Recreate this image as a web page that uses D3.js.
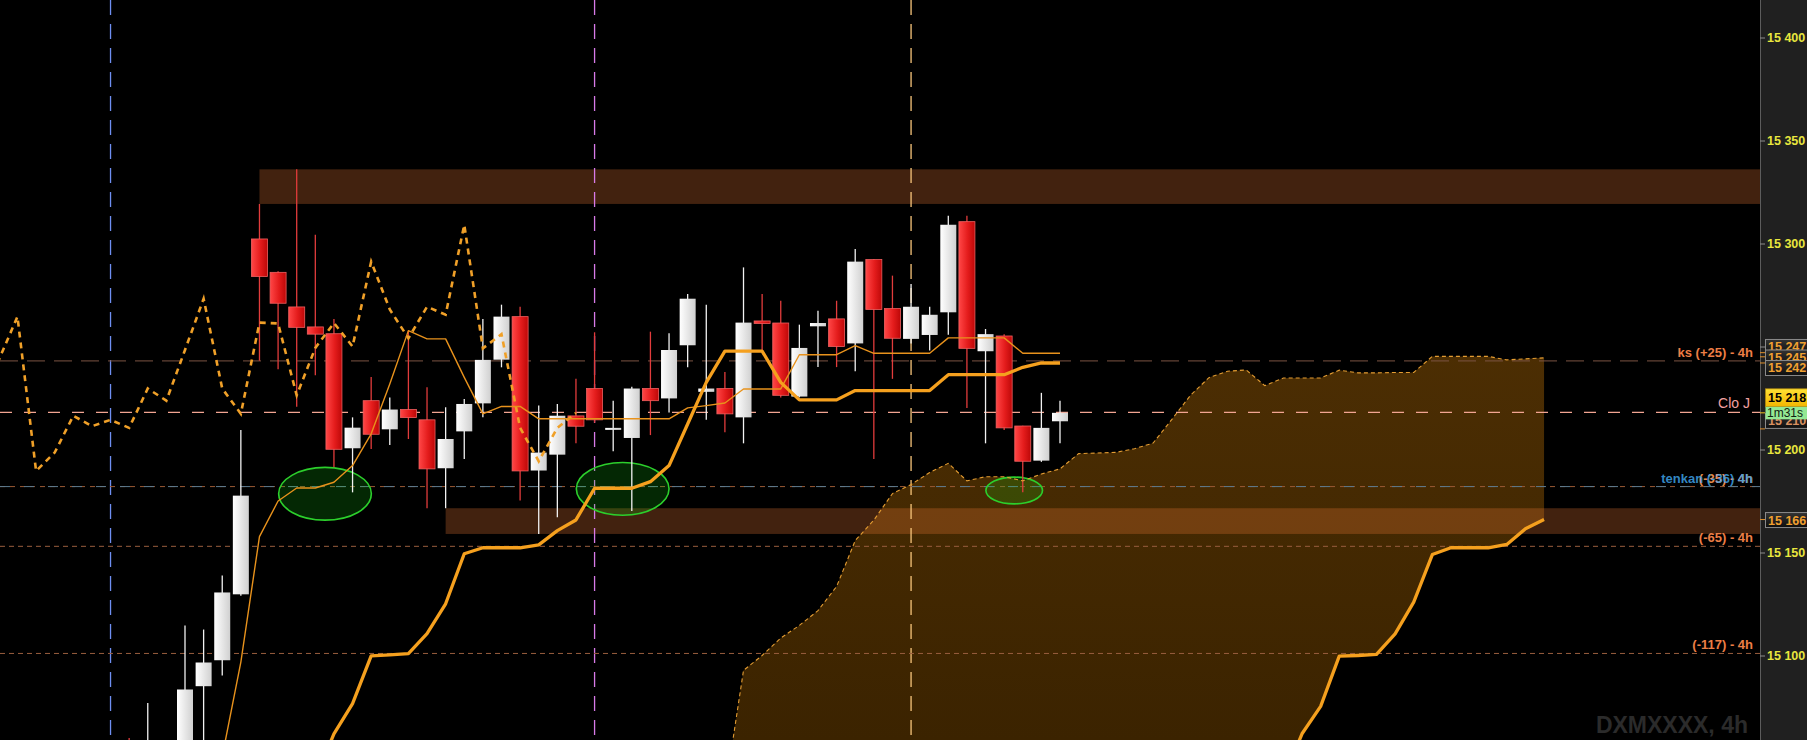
<!DOCTYPE html>
<html><head><meta charset="utf-8">
<script src="https://cdn.jsdelivr.net/npm/d3@7"></script>
<style>
html,body{margin:0;padding:0;background:#000;overflow:hidden;}
svg{display:block;font-family:"Liberation Sans",Arial,sans-serif;}
</style></head><body>
<svg id="chart" width="1807" height="740"></svg>
<script>
// ---------------- DATA ----------------
const barIndex = [-3,-2,-1,0,1,2,3,4,5,6,7,8,9,10,11,12,13,14,15,16,17,18,19,20,21,22,23,24,25,26,27,28,29,30,31,32,33,34,35,36,37,38,39,40,41,42,43,44,45,46,47];
const openP  = [15040,15035,15040,15050,15085.1,15097.7,15129.7,15302.2,15286,15269.2,15259.5,15256.2,15200.6,15223.7,15209.8,15219.4,15214.4,15190.9,15208.8,15222.4,15243.6,15264.5,15189.8,15197.5,15216.3,15229.6,15210.5,15205.6,15229.6,15224.8,15250.6,15228.0,15229.6,15215.6,15262.4,15261.4,15225.7,15259.8,15263.4,15251.5,15292.2,15268.4,15253.7,15255.6,15266.6,15310.6,15247.7,15255.1,15211.4,15194.6,15213.7];
const highP  = [15060,15077,15056,15114.6,15112.6,15138.8,15209.5,15319.2,15286.5,15336,15304.3,15263.4,15215.6,15235.2,15225.3,15257.7,15230.2,15220.5,15224.5,15263.4,15270.3,15269.3,15221.3,15222.1,15234.4,15256.9,15223.7,15230.5,15257.2,15256.4,15275.5,15270.3,15237.6,15288.4,15275.5,15272.2,15260.6,15267.4,15272.2,15297.3,15292.5,15284.4,15280.4,15269.3,15313.5,15313.5,15258.5,15256,15211.5,15227.5,15223.7];
const lowP   = [15010,15025,15030,15045,15055,15090.3,15129,15243.1,15239,15220.8,15236,15191.4,15179.2,15200.3,15202.2,15205.1,15171.5,15171.5,15195.4,15215.6,15239.9,15175.2,15159,15167.1,15203,15213,15199.2,15170.2,15207,15218,15239.9,15214.4,15208.4,15203,15248,15225.3,15225.3,15240,15240,15238,15195.4,15234.3,15251.5,15248,15255.7,15220.2,15203,15209.5,15179.2,15194,15203];
const closeP = [15022,15052,15050,15083.5,15096.6,15130.6,15177.6,15284,15271,15259.3,15256,15200.1,15210.6,15207.4,15219.4,15215.5,15190.6,15205.1,15222.1,15243.5,15264.5,15189.6,15198.5,15216.4,15211.3,15214.4,15210.5,15229.6,15223.7,15248.3,15273.2,15229.6,15217.3,15261.6,15261.2,15226.3,15249.3,15261.4,15250,15291.2,15268,15254,15269.3,15265.4,15309.1,15249.1,15256,15210.5,15194.3,15210.5,15217.8];

const kijunIndex = [7,8,9,10,11,12,13,14,15,16,17,18,19,20,21,22,23,24,25,26,27,28,29,30,31,32,33,34,35,36,37,38,39,40,41,42,43,44,45,46,47];
const kijunVal   = [15040,15062,15076.6,15099.8,15100.3,15100.9,15110.6,15125.1,15149.4,15152.3,15152.3,15152.3,15153.7,15160.6,15165.8,15181.2,15181.2,15181.2,15184.4,15192.2,15212.4,15232.6,15247.8,15247.8,15247.8,15232.6,15224.1,15224.1,15224.1,15228.6,15228.6,15228.6,15228.6,15228.6,15236.3,15236.3,15236.3,15236.3,15239.9,15242,15242];

const tenkanIndex = [2,3,4,5,6,7,8,9,10,11,12,13,14,15,16,17,18,19,20,21,22,23,24,25,26,27,28,29,30,31,32,33,34,35,36,37,38,39,40,41,42,43,44,45,46,47];
const tenkanVal   = [15051,15096.8,15157.7,15175,15181.3,15181.3,15184.1,15192.2,15207.6,15231.8,15257.7,15253.7,15253.7,15235,15217.3,15220.9,15220.9,15214.9,15214.9,15214.9,15214.9,15214.9,15214.9,15214.9,15214.9,15220.2,15221.3,15222.6,15229.4,15229.4,15229.4,15246,15246,15246,15250.4,15246.7,15246.7,15246.7,15246.7,15254.2,15254.2,15254.2,15254.2,15246.7,15246.7,15246.7];

const chikouShift = 26;

const senkouIndex = [26,27,28,29,30,31,32,33,34,35,36,37,38,39,40,41,42,43,44,45,46,47,48,49,50,51,52,53,54,55,56,57,58,59,60,61,62,63,64,65,66,67,68,69,70,71,72,73];
const senkouA = [14990,15005,15020,15033.5,15092.8,15100,15108.5,15114.6,15121.8,15133.5,15155.8,15165.7,15178.6,15183,15188.8,15193.3,15184.8,15186.8,15186.8,15184.8,15188.1,15190.6,15198,15198.3,15198.6,15200.4,15203.1,15214.5,15226.2,15234.9,15238,15238.6,15231,15234.7,15234.7,15234.7,15238.5,15237.2,15237.2,15237.4,15237.4,15245.2,15245.2,15245.2,15245.2,15243.5,15244,15244.5];
const senkouB = [14905,14905,14912,14912,14918,14925,14925,14931,14940,14940,14948,14955,14955,14962,14968,14975,14975,14982,14990,14990,14996,15002,15002,15008,15015,15015,15020,15026,15026,15030,15034,15034,15038,15040,15062,15075.3,15099.7,15100,15100.5,15110.5,15125.9,15149,15152.3,15152.3,15152.3,15153.9,15161.5,15166];

const zoneStart  = [4, 14];
const zoneTop    = [15336, 15171.5];
const zoneBottom = [15319.2, 15159];

const vlineIndex = [-4, 22, 39];
const vlineColor = ["#6f8ff2", "#d87ae8", "#f7c47a"];

const levelPrice = [15243, 15218, 15182, 15153, 15101];
const levelLabel = ["ks (+25) - 4h", "Clo J", "tenkan (-36) 4h", "(-65) - 4h", "(-117) - 4h"];

const ellipseIdx   = [7.52, 23.51, 44.54];
const ellipsePrice = [15178.5, 15180.9, 15180.1];
const ellipseBars  = [2.49, 2.49, 1.52];
const ellipsePts   = [12.8, 12.8, 6.5];

const tickValues = [15100, 15150, 15200, 15250, 15300, 15350, 15400];
const boxValue = [15247, 15245, 15242, 15210, 15166];
const symbolText = "DXMXXXX, 4h";

// ---------------- SETUP ----------------
const W = 1807, H = 740, plotRight = 1760;
const x = d3.scaleLinear().domain([0, 47]).range([185, 1060]);
const y = d3.scaleLinear().domain([15100, 15400]).range([655.5, 37.5]);
const fmt = d3.formatLocale({decimal: ".", thousands: " ", grouping: [3], currency: ["", ""]}).format(",d");

const svg = d3.select('#chart');
svg.append('rect').attr('width', W).attr('height', H).attr('fill', '#000');
const defs = svg.append('defs');

const gr = defs.append('linearGradient').attr('id', 'gRed').attr('x1', 0).attr('x2', 1).attr('y1', 0).attr('y2', 0);
gr.append('stop').attr('offset', '0%').attr('stop-color', '#ff4646');
gr.append('stop').attr('offset', '55%').attr('stop-color', '#e41c1c');
gr.append('stop').attr('offset', '100%').attr('stop-color', '#bd0808');
const gw = defs.append('linearGradient').attr('id', 'gWhite').attr('x1', 0).attr('x2', 1).attr('y1', 0).attr('y2', 0);
gw.append('stop').attr('offset', '0%').attr('stop-color', '#ffffff');
gw.append('stop').attr('offset', '100%').attr('stop-color', '#d0d0d0');
const gc = defs.append('linearGradient').attr('id', 'gCloud').attr('gradientUnits', 'userSpaceOnUse')
  .attr('x1', 0).attr('x2', 0).attr('y1', 350).attr('y2', 740);
gc.append('stop').attr('offset', '0%').attr('stop-color', '#4c2e03');
gc.append('stop').attr('offset', '100%').attr('stop-color', '#3b2300');
const gb = defs.append('linearGradient').attr('id', 'gBox').attr('x1', 0).attr('x2', 0).attr('y1', 0).attr('y2', 1);
gb.append('stop').attr('offset', '0%').attr('stop-color', '#333');
gb.append('stop').attr('offset', '100%').attr('stop-color', '#0e0e0e');
const gy = defs.append('linearGradient').attr('id', 'gYellow').attr('x1', 0).attr('x2', 0).attr('y1', 0).attr('y2', 1);
gy.append('stop').attr('offset', '0%').attr('stop-color', '#ffe234');
gy.append('stop').attr('offset', '100%').attr('stop-color', '#f2b400');
defs.append('clipPath').attr('id', 'clipPlot').append('rect').attr('x', 0).attr('y', 0).attr('width', plotRight).attr('height', H);

const plot = svg.append('g').attr('clip-path', 'url(#clipPlot)');

// ---------------- CLOUD ----------------
const cloud = senkouIndex.map((d, k) => ({i: d, a: senkouA[k], b: senkouB[k]}));
plot.append('path').datum(cloud)
  .attr('d', d3.area().x(d => x(d.i)).y0(d => y(d.b)).y1(d => y(d.a)))
  .attr('fill', 'url(#gCloud)');

// ---------------- ZONES ----------------
zoneStart.forEach((s, k) => {
  plot.append('rect').attr('x', x(s)).attr('y', y(zoneTop[k]))
    .attr('width', plotRight - x(s)).attr('height', y(zoneBottom[k]) - y(zoneTop[k]))
    .attr('fill', 'rgb(228,117,52)').attr('fill-opacity', 0.29);
});

// ---------------- VERTICAL LINES ----------------
vlineIndex.forEach((v, k) => {
  plot.append('line').attr('x1', x(v)).attr('x2', x(v)).attr('y1', 0).attr('y2', H)
    .attr('stroke', vlineColor[k]).attr('stroke-width', 1.3).attr('stroke-dasharray', '15,9');
});

// ---------------- HORIZONTAL LEVELS ----------------
const levelStyles = [
  [{c: '#7c5442', w: 1, d: '18,9'}],
  [{c: '#f2a592', w: 1.4, d: '12,12'}],
  [{c: '#9a5a34', w: 1, d: '5,5'}, {c: '#5d7b90', w: 1, d: '10,14'}],
  [{c: '#9a5e3e', w: 1, d: '5,4'}],
  [{c: '#9a5e3e', w: 1, d: '5,4'}]
];
levelPrice.forEach((p, k) => {
  levelStyles[k].forEach(s => {
    plot.append('line').attr('x1', 0).attr('x2', plotRight).attr('y1', y(p)).attr('y2', y(p))
      .attr('stroke', s.c).attr('stroke-width', s.w).attr('stroke-dasharray', s.d);
  });
});

// ---------------- ELLIPSES ----------------
ellipseIdx.forEach((e, k) => {
  plot.append('ellipse').attr('cx', x(e)).attr('cy', y(ellipsePrice[k]))
    .attr('rx', x(ellipseBars[k]) - x(0)).attr('ry', y(15300 - ellipsePts[k]) - y(15300))
    .attr('fill', 'rgb(20,200,20)').attr('fill-opacity', 0.2)
    .attr('stroke', '#2ccf2c').attr('stroke-width', 1.6);
});

// ---------------- CANDLES ----------------
const candles = barIndex.map((b, k) => ({i: b, o: openP[k], h: highP[k], l: lowP[k], c: closeP[k]}));
const bw = 16;
const cg = plot.append('g');
candles.forEach(d => {
  const up = d.c >= d.o;
  const cx = x(d.i);
  cg.append('line').attr('x1', cx).attr('x2', cx).attr('y1', y(d.h)).attr('y2', y(d.l))
    .attr('stroke', up ? '#f2f2f2' : '#e23c3c').attr('stroke-width', 1.3);
  const top = y(Math.max(d.o, d.c)), bot = y(Math.min(d.o, d.c));
  cg.append('rect').attr('x', cx - bw / 2).attr('y', top).attr('width', bw).attr('height', Math.max(bot - top, 2))
    .attr('fill', up ? 'url(#gWhite)' : 'url(#gRed)')
    .attr('stroke', up ? 'none' : '#f06060').attr('stroke-width', 0.8);
});

// ---------------- INDICATOR LINES ----------------
const ln = d3.line().x(d => x(d.i)).y(d => y(d.v));
const senA = senkouIndex.map((d, k) => ({i: d, v: senkouA[k]}));
const senB = senkouIndex.map((d, k) => ({i: d, v: senkouB[k]}));
plot.append('path').datum(senA).attr('d', ln).attr('fill', 'none')
  .attr('stroke', '#e39c32').attr('stroke-width', 1.1).attr('stroke-dasharray', '4,3');
plot.append('path').datum(senB).attr('d', ln).attr('fill', 'none')
  .attr('stroke', '#f5a01e').attr('stroke-width', 3.3).attr('stroke-linejoin', 'round');

const chikou = barIndex.map((b, k) => ({i: b - chikouShift, v: closeP[k]})).filter(d => d.i >= -11);
plot.append('path').datum(chikou).attr('d', ln).attr('fill', 'none')
  .attr('stroke', '#f0a028').attr('stroke-width', 2.6).attr('stroke-dasharray', '6,5');

const tenkan = tenkanIndex.map((d, k) => ({i: d, v: tenkanVal[k]}));
plot.append('path').datum(tenkan).attr('d', ln).attr('fill', 'none')
  .attr('stroke', '#e8921c').attr('stroke-width', 1.4).attr('stroke-linejoin', 'round');

const kijun = kijunIndex.map((d, k) => ({i: d, v: kijunVal[k]}));
plot.append('path').datum(kijun).attr('d', ln).attr('fill', 'none')
  .attr('stroke', '#f5a01e').attr('stroke-width', 3.3).attr('stroke-linejoin', 'round');

// ---------------- LEVEL LABELS ----------------
const labelStyle = [
  {c: '#ec7e46', w: 'bold', s: 13},
  {c: '#f2a0a0', w: 'normal', s: 14},
  {c: '#3ea2e6', w: 'bold', s: 13},
  {c: '#ec7e46', w: 'bold', s: 13},
  {c: '#ec7e46', w: 'bold', s: 13}
];
levelPrice.forEach((p, k) => {
  if (k === 2) {
    svg.append('text').attr('x', 1753).attr('y', y(p) - 4).attr('text-anchor', 'end')
      .attr('fill', '#e58a4a').attr('font-weight', 'bold').attr('font-size', 13).text('(-35) - 4h');
  }
  svg.append('text').attr('x', k === 1 ? 1750 : 1753).attr('y', y(p) - 4).attr('text-anchor', 'end')
    .attr('fill', labelStyle[k].c).attr('font-weight', labelStyle[k].w).attr('font-size', labelStyle[k].s)
    .attr('fill-opacity', k === 2 ? 0.85 : 1)
    .text(levelLabel[k]);
});

// watermark
svg.append('text').attr('x', 1748).attr('y', 733).attr('text-anchor', 'end')
  .attr('fill', '#2b2b2b').attr('font-weight', 'bold').attr('font-size', 23).text(symbolText);

// ---------------- AXIS ----------------
svg.append('rect').attr('x', plotRight).attr('y', 0).attr('width', W - plotRight).attr('height', H).attr('fill', '#202020');
svg.append('line').attr('x1', plotRight + 0.5).attr('x2', plotRight + 0.5).attr('y1', 0).attr('y2', H).attr('stroke', '#5c5c5c');
const ax = svg.append('g').attr('transform', `translate(${plotRight},0)`)
  .call(d3.axisRight(y).tickValues(tickValues).tickSize(5).tickPadding(2).tickFormat(fmt));
ax.select('.domain').remove();
ax.selectAll('.tick line').attr('stroke', '#8c8c8c');
ax.selectAll('.tick text').attr('fill', '#e8e63e').attr('font-weight', 'bold').attr('font-size', 12.5)
  .attr('font-family', '"Liberation Sans",Arial,sans-serif');

// axis boxes
const boxOffset = [-5.7, 0.7, 5, -8, 0.5];
const boxColor = ['#f0a030', '#f0a030', '#f0a030', '#d89060', '#f0a030'];
function axisBox(v, k) {
  const cy = y(v) + boxOffset[k];
  svg.append('line').attr('x1', plotRight).attr('x2', plotRight + 5).attr('y1', y(v)).attr('y2', y(v))
    .attr('stroke', '#e0902c').attr('stroke-width', 1);
  svg.append('rect').attr('x', plotRight + 5.5).attr('y', cy - 7.5).attr('width', 44).attr('height', 15)
    .attr('fill', 'url(#gBox)').attr('stroke', '#8a8a8a').attr('stroke-width', 1);
  svg.append('text').attr('x', plotRight + 8).attr('y', cy).attr('dy', '0.36em')
    .attr('fill', boxColor[k]).attr('font-weight', 'bold').attr('font-size', 12.5).text(fmt(v));
}
[3, 4, 0, 1, 2].forEach(k => axisBox(boxValue[k], k));

// current price yellow box + countdown
const cur = closeP[closeP.length - 1];
const curY = y(cur);
svg.append('line').attr('x1', plotRight).attr('x2', plotRight + 5).attr('y1', curY).attr('y2', curY).attr('stroke', '#f0c020');
svg.append('rect').attr('x', plotRight + 5.5).attr('y', curY - 24).attr('width', 44).attr('height', 18)
  .attr('fill', 'url(#gYellow)').attr('stroke', '#b08a10').attr('stroke-width', 0.8);
svg.append('text').attr('x', plotRight + 8).attr('y', curY - 15).attr('dy', '0.36em')
  .attr('fill', '#000').attr('font-weight', 'bold').attr('font-size', 12.5).text(fmt(Math.round(cur)));
svg.append('rect').attr('x', plotRight + 5.5).attr('y', curY - 6).attr('width', 44).attr('height', 12.5)
  .attr('fill', '#94e894');
svg.append('text').attr('x', plotRight + 7).attr('y', curY + 0.3).attr('dy', '0.36em')
  .attr('fill', '#102010').attr('font-size', 12).text('1m31s');
</script>
</body></html>
